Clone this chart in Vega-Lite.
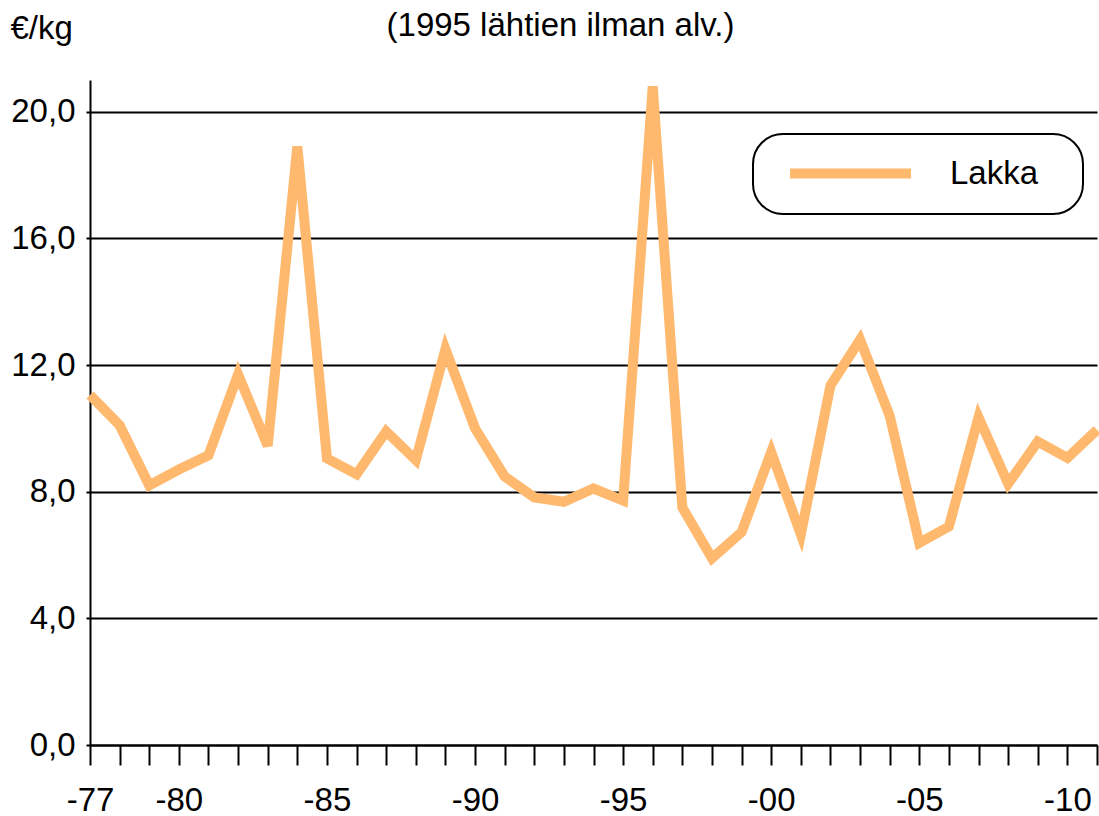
{
  "$schema": "https://vega.github.io/schema/vega-lite/v6.json",
  "autosize": "none",
  "width": 1007,
  "height": 665,
  "padding": {"left": 90, "top": 80, "right": 2, "bottom": 71},
  "background": "white",
  "config": {
    "view": {"stroke": null},
    "font": "Liberation Sans"
  },
  "title": {
    "text": "(1995 lähtien ilman alv.)",
    "anchor": "middle",
    "frame": "group",
    "dx": -33,
    "baseline": "alphabetic",
    "offset": -57,
    "fontSize": 33,
    "fontWeight": "normal",
    "font": "Liberation Sans",
    "color": "black"
  },
  "data": {
    "values": [
      {"year": 1977, "price": 11.05, "series": "Lakka"},
      {"year": 1978, "price": 10.1, "series": "Lakka"},
      {"year": 1979, "price": 8.2, "series": "Lakka"},
      {"year": 1980, "price": 8.7, "series": "Lakka"},
      {"year": 1981, "price": 9.15, "series": "Lakka"},
      {"year": 1982, "price": 11.7, "series": "Lakka"},
      {"year": 1983, "price": 9.45, "series": "Lakka"},
      {"year": 1984, "price": 18.9, "series": "Lakka"},
      {"year": 1985, "price": 9.05, "series": "Lakka"},
      {"year": 1986, "price": 8.55, "series": "Lakka"},
      {"year": 1987, "price": 9.9, "series": "Lakka"},
      {"year": 1988, "price": 9.0, "series": "Lakka"},
      {"year": 1989, "price": 12.5, "series": "Lakka"},
      {"year": 1990, "price": 10.0, "series": "Lakka"},
      {"year": 1991, "price": 8.48, "series": "Lakka"},
      {"year": 1992, "price": 7.82, "series": "Lakka"},
      {"year": 1993, "price": 7.68, "series": "Lakka"},
      {"year": 1994, "price": 8.1, "series": "Lakka"},
      {"year": 1995, "price": 7.72, "series": "Lakka"},
      {"year": 1996, "price": 20.8, "series": "Lakka"},
      {"year": 1997, "price": 7.5, "series": "Lakka"},
      {"year": 1998, "price": 5.9, "series": "Lakka"},
      {"year": 1999, "price": 6.72, "series": "Lakka"},
      {"year": 2000, "price": 9.25, "series": "Lakka"},
      {"year": 2001, "price": 6.65, "series": "Lakka"},
      {"year": 2002, "price": 11.35, "series": "Lakka"},
      {"year": 2003, "price": 12.8, "series": "Lakka"},
      {"year": 2004, "price": 10.4, "series": "Lakka"},
      {"year": 2005, "price": 6.38, "series": "Lakka"},
      {"year": 2006, "price": 6.9, "series": "Lakka"},
      {"year": 2007, "price": 10.35, "series": "Lakka"},
      {"year": 2008, "price": 8.25, "series": "Lakka"},
      {"year": 2009, "price": 9.58, "series": "Lakka"},
      {"year": 2010, "price": 9.07, "series": "Lakka"},
      {"year": 2011, "price": 9.95, "series": "Lakka"}
    ]
  },
  "mark": {"type": "line", "strokeWidth": 10, "strokeCap": "butt"},
  "encoding": {
    "x": {
      "field": "year",
      "type": "quantitative",
      "scale": {"domain": [1977, 2011], "nice": false, "zero": false},
      "axis": {
        "title": null,
        "grid": false,
        "values": [1977,1978,1979,1980,1981,1982,1983,1984,1985,1986,1987,1988,1989,1990,1991,1992,1993,1994,1995,1996,1997,1998,1999,2000,2001,2002,2003,2004,2005,2006,2007,2008,2009,2010,2011],
        "labelExpr": "(datum.value == 1977 || datum.value % 5 == 0) ? '-' + format(datum.value % 100, '02d') : ''",
        "labelOverlap": false,
        "labelFlush": false,
        "labelFont": "Liberation Sans",
        "labelFontSize": 33,
        "labelColor": "black",
        "labelPadding": 19,
        "tickSize": 20,
        "tickWidth": 2,
        "tickColor": "black",
        "domainColor": "black",
        "domainWidth": 2
      }
    },
    "y": {
      "field": "price",
      "type": "quantitative",
      "scale": {"domain": [0, 21], "nice": false},
      "axis": {
        "title": "€/kg",
        "titleAngle": 0,
        "titleAlign": "left",
        "titleBaseline": "alphabetic",
        "titleX": -80,
        "titleY": -42,
        "titleFont": "Liberation Sans",
        "titleFontSize": 33,
        "titleFontWeight": "normal",
        "titleColor": "black",
        "values": [0, 4, 8, 12, 16, 20],
        "labelExpr": "replace(format(datum.value, '.1f'), '.', ',')",
        "labelFont": "Liberation Sans",
        "labelFontSize": 33,
        "labelColor": "black",
        "labelPadding": 11,
        "grid": true,
        "gridColor": "black",
        "gridWidth": 2,
        "gridOpacity": 1,
        "tickSize": 4,
        "tickWidth": 2,
        "tickColor": "black",
        "domainColor": "black",
        "domainWidth": 2
      }
    },
    "color": {
      "field": "series",
      "type": "nominal",
      "scale": {"range": ["#FFB96F"]},
      "legend": {
        "title": "\u00a0",
        "titleOrient": "right",
        "titleFontSize": 1,
        "titlePadding": 22,
        "orient": "none",
        "legendX": 663,
        "legendY": 54,
        "symbolType": "stroke",
        "symbolSize": 14641,
        "symbolStrokeWidth": 10,
        "symbolOffset": 9,
        "labelOffset": 34,
        "labelFont": "Liberation Sans",
        "labelFontSize": 33,
        "labelColor": "black",
        "padding": 23,
        "clipHeight": 33,
        "strokeColor": "black",
        "cornerRadius": 30,
        "fillColor": "white",
        "encode": {"legend": {"update": {"strokeWidth": {"value": 2}}}}
      }
    }
  }
}
